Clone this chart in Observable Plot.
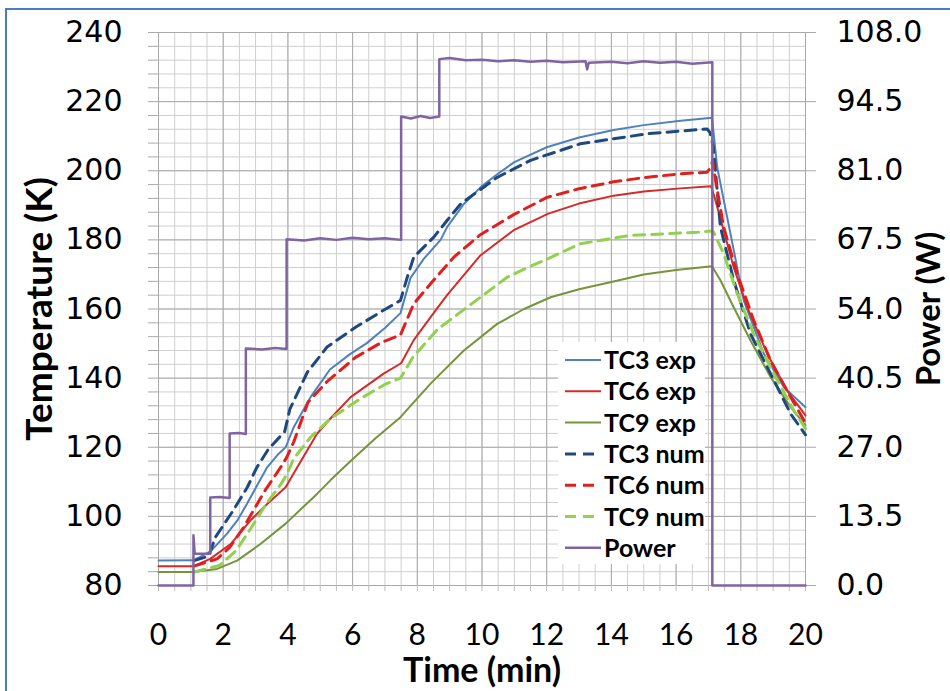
<!DOCTYPE html>
<html>
<head>
<meta charset="utf-8">
<script src="https://cdn.jsdelivr.net/npm/d3@7"></script>
<script src="https://cdn.jsdelivr.net/npm/@observablehq/plot@0.6"></script>
<style>
  body { margin: 0; background: #fff; overflow: hidden; }
  #wrap { position: relative; width: 950px; height: 691px; overflow: hidden; background: #fff; }
  #frame { position: absolute; left: 5px; top: 8px; width: 1000px; height: 800px; border: 2px solid #4a7ebb; box-sizing: border-box; pointer-events: none; }
  #legend { position: absolute; left: 558px; top: 342px; width: 147px; height: 222px; background: #fff; }
</style>
</head>
<body>
<div id="wrap"><div id="chart"></div><div id="legend"></div><div id="frame"></div></div>
<script>
// ---------- data ----------
// time in minutes, temperature in K
const tc3Exp = [[0,87.2],[1.08,87.3],[1.6,89.8],[2.12,95],[2.45,99],[2.74,103.7],[3.05,109],[3.36,114.2],[3.7,118],[3.93,120],[4.18,125.8],[4.7,134.5],[5.3,142.5],[5.9,146.8],[6.45,150.2],[7.0,154.5],[7.48,158.8],[7.79,169],[8.2,174.5],[8.72,180],[8.92,183.7],[9.44,190.4],[9.95,195.2],[10.47,199],[11.0,202.5],[12.0,206.8],[13.0,209.6],[14.07,211.8],[15.0,213.2],[16.14,214.5],[17.11,215.3],[17.27,201],[17.68,181.8],[18.09,162.5],[18.71,147.1],[19.33,137.4],[20,131.6]];
const tc6Exp = [[0,85.6],[1.08,85.6],[1.6,87.7],[2.23,92],[2.84,98.8],[3.36,103.6],[3.93,108.4],[4.29,114.2],[4.9,123.9],[5.32,128.4],[5.94,134.5],[6.96,141.3],[7.5,144.3],[7.89,151],[8.4,157.5],[8.92,164],[9.95,175.5],[10.98,182.8],[12.05,187.6],[13.0,190.5],[14.07,192.8],[15.0,194],[16.14,194.9],[17.08,195.5],[17.2,192],[17.78,172.1],[18.2,160.5],[18.82,147],[19.43,136.4],[20,129.2]];
const tc9Exp = [[0,83.9],[1.08,83.9],[1.81,84.8],[2.43,87.2],[3.15,92],[3.93,97.9],[4.9,106.5],[5.32,110.5],[5.94,116],[6.7,122.5],[7.48,128.7],[8.41,138.4],[9.44,148],[10.47,155.7],[11.3,160],[12.12,163.4],[13.0,165.7],[14.0,167.8],[15.0,170],[16.0,171.3],[17.11,172.4],[17.37,168.3],[17.78,160.5],[18.3,150.9],[18.92,140.3],[19.54,131.6],[20,126.3]];
const tc3Num = [[1.1,87.2],[1.55,88.5],[1.76,94],[2.31,101.7],[2.75,108.5],[3.03,114],[3.4,119.5],[3.9,124.5],[4.06,131],[4.6,141.7],[5.21,149],[6.09,154.7],[6.86,159.1],[7.48,162.5],[7.69,169.2],[7.89,175],[8.51,180.8],[8.92,185.6],[9.34,190.4],[10.47,198.1],[11.5,203],[13.04,207.8],[15.1,210.7],[16.96,212.1],[17.05,211],[17.15,207],[17.37,183.7],[17.78,168.3],[18.3,152.8],[18.92,141.3],[19.54,129.7],[20,123.6]];
const tc6Num = [[1.1,85.6],[1.81,87.7],[2.2,91],[2.64,96.9],[3.26,107],[3.79,114.4],[3.96,117],[4.18,121.5],[4.62,133],[5.21,139],[6.09,146],[6.91,150.4],[7.48,152.5],[7.89,161.5],[8.41,167.3],[9.13,175],[9.95,181.5],[10.98,187.3],[12.01,192.3],[13.0,194.8],[14.07,196.8],[15.0,198],[16.14,199.1],[16.96,199.6],[17.08,201],[17.13,203],[17.22,197.2],[17.47,183.7],[17.89,170.2],[18.4,156.7],[18.92,145.1],[19.54,134.5],[20,127]];
const tc9Num = [[1.1,83.9],[1.89,85.8],[2.4,90.1],[2.81,95.9],[3.33,103.6],[3.79,109.4],[3.96,112],[4.18,116.7],[4.7,122.9],[5.32,128.3],[6.2,133.8],[7.02,138.3],[7.48,140],[7.86,146],[8.61,154],[9.75,162],[10.78,169.2],[11.5,172.4],[11.91,174],[13.04,178.9],[14.59,181.3],[16.65,182.2],[17.1,182.6],[17.16,182.2],[17.47,176],[17.89,164.4],[18.4,152.8],[19.02,141.3],[19.64,130.6],[20,125.4]];
// time in minutes, power in W (right axis)
const power = [[0,0],[1.08,0],[1.08,9.8],[1.12,6.2],[1.6,6.2],[1.6,17.2],[1.9,17.3],[2.2,17.1],[2.2,29.7],[2.5,29.8],[2.7,29.6],[2.7,46.3],[3.2,46.1],[3.6,46.4],[3.96,46.2],[3.96,67.6],[4.5,67.4],[5.0,67.8],[5.5,67.5],[6.0,67.9],[6.5,67.6],[7.0,67.8],[7.5,67.5],[7.5,91.6],[7.8,91.2],[8.1,91.7],[8.4,91.3],[8.68,91.6],[8.68,102.8],[9.0,103.0],[9.5,102.6],[10.0,102.7],[10.5,102.4],[11.0,102.6],[11.5,102.3],[12.0,102.5],[12.5,102.2],[13.2,102.4],[13.25,100.8],[13.3,102.1],[14.0,102.3],[14.5,102.0],[15.0,102.4],[15.5,102.1],[16.0,102.3],[16.5,101.9],[17.12,102.2],[17.12,0],[20,0]];

// ---------- ticks ----------
const xTicks = [0,2,4,6,8,10,12,14,16,18,20];
const xMinor = d3.range(0, 20.001, 0.5);
const yTicks = [80,100,120,140,160,180,200,220,240];
const yMinor = d3.range(80, 240.001, 4);
const powerTicks = [0,13.5,27,40.5,54,67.5,81,94.5,108];

// right axis (power) mapped onto the temperature scale: 0 W -> 80 K, 108 W -> 240 K
const toK = p => 80 + p * 160 / 108;
const toW = k => (k - 80) * 108 / 160;

const series = [
  {name: "TC3 exp", data: tc3Exp, color: "#4f81bd", width: 2, dash: null},
  {name: "TC6 exp", data: tc6Exp, color: "#d42a2a", width: 2, dash: null},
  {name: "TC9 exp", data: tc9Exp, color: "#77933c", width: 2, dash: null},
  {name: "TC3 num", data: tc3Num, color: "#1f497d", width: 3, dash: "11,7"},
  {name: "TC6 num", data: tc6Num, color: "#e0201e", width: 3, dash: "11,7"},
  {name: "TC9 num", data: tc9Num, color: "#92d050", width: 3, dash: "11,7"},
];
const powerColor = "#8064a2";

const tickFont = "DejaVu Sans, Verdana, sans-serif";
const titleFont = "Lato, 'Open Sans', sans-serif";

const lineMarks = series.map(s => Plot.line(s.data, {
  x: d => d[0], y: d => d[1], stroke: s.color, strokeWidth: s.width,
  strokeDasharray: s.dash, strokeLinejoin: "round"
}));

const chart = Plot.plot({
  width: 950, height: 691,
  marginLeft: 158, marginRight: 145, marginTop: 32, marginBottom: 106,
  x: {domain: [0, 20]},
  y: {domain: [80, 240]},
  style: {background: "transparent", color: "#000", overflow: "visible"},
  marks: [
    Plot.ruleX(xMinor, {stroke: "#cfcfcf", strokeWidth: 1}),
    Plot.ruleY(yMinor, {stroke: "#cfcfcf", strokeWidth: 1}),
    Plot.ruleX(xTicks, {stroke: "#a9a9a9", strokeWidth: 1}),
    Plot.ruleY(yTicks, {stroke: "#a9a9a9", strokeWidth: 1}),
    // left axis
    Plot.axisY(yMinor, {anchor: "left", tickSize: 10, tickFormat: () => "", stroke: "#a9a9a9", label: null}),
    Plot.axisY(yTicks, {anchor: "left", tickSize: 0, tickPadding: 36, fontSize: 30, fontFamily: tickFont, label: null}),
    // right axis (power)
    Plot.axisY(powerTicks.map(toK), {anchor: "right", tickSize: 10, tickPadding: 21, stroke: "#a9a9a9",
      tickFormat: k => toW(k).toFixed(1), fontSize: 30, fontFamily: tickFont, label: null}),
    // bottom axis
    Plot.axisX(xMinor, {anchor: "bottom", tickSize: 6, tickFormat: () => "", stroke: "#bdbdbd", label: null}),
    Plot.axisX(xTicks, {anchor: "bottom", tickSize: 0, tickPadding: 38, fontSize: 30, fontFamily: titleFont, label: null}),
    // data
    ...lineMarks,
    Plot.line(power, {x: d => d[0], y: d => toK(d[1]), stroke: powerColor, strokeWidth: 2.5, strokeLinejoin: "round"}),
    // axis titles
    Plot.text(["Temperature (K)"], {frameAnchor: "left", dx: -118, rotate: -90, text: d => d,
      fontSize: 37, fontWeight: "bold", fontFamily: titleFont, lineAnchor: "middle", textAnchor: "middle"}),
    Plot.text(["Power (W)"], {frameAnchor: "right", dx: 124, rotate: -90, text: d => d,
      fontSize: 33, fontWeight: "bold", fontFamily: titleFont, lineAnchor: "middle", textAnchor: "middle"}),
    Plot.text(["Time (min)"], {frameAnchor: "bottom", dy: 86, text: d => d,
      fontSize: 34, fontWeight: "bold", fontFamily: titleFont, lineAnchor: "middle", textAnchor: "middle"}),
  ]
});
document.getElementById("chart").appendChild(chart);

// ---------- legend ----------
const legendItems = [...series, {name: "Power", color: powerColor, width: 2.5, dash: null}];
const lsvg = d3.select("#legend").append("svg").attr("width", 147).attr("height", 222).style("display", "block");
legendItems.forEach((s, i) => {
  const cy = 18 + i * 31.3;
  lsvg.append("line").attr("x1", 7).attr("x2", 43).attr("y1", cy).attr("y2", cy)
    .attr("stroke", s.color).attr("stroke-width", s.width)
    .attr("stroke-dasharray", s.dash ? "11,7" : null);
  lsvg.append("text").attr("x", 46).attr("y", cy).attr("dy", "0.36em")
    .attr("font-family", titleFont).attr("font-weight", "bold").attr("font-size", 25)
    .attr("fill", "#000").text(s.name);
});
</script>
</body>
</html>
